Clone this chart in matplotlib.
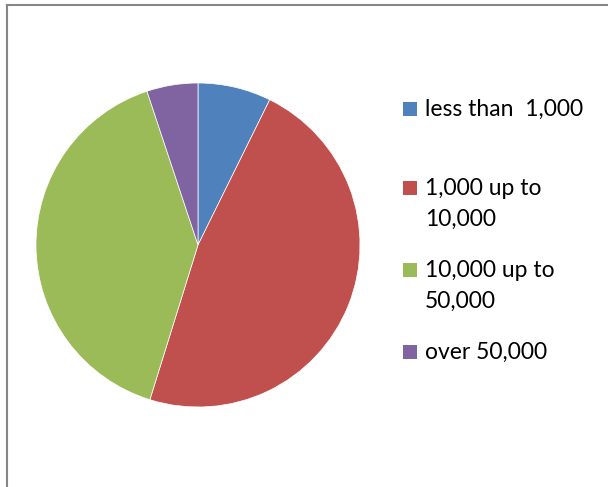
import matplotlib.pyplot as plt
from matplotlib.lines import Line2D
from matplotlib.patches import Rectangle

labels = ['less than  1,000', '1,000 up to\n10,000', '10,000 up to\n50,000', 'over 50,000']
shares = [7.3, 47.5, 40.1, 5.1]
colors = ['#4F81BD', '#C0504D', '#9BBB59', '#8064A2']

W, H = 608, 487
fig = plt.figure(figsize=(W / 100, H / 100), dpi=100)

# frame of the chart area (cropped at right/bottom)
fig.add_artist(Line2D([7 / W, 1], [1 - 4.5 / H, 1 - 4.5 / H], color='#868686', lw=1.5))
fig.add_artist(Line2D([7 / W, 7 / W], [0, 1 - 4.5 / H], color='#868686', lw=1.5))

ax = fig.add_axes([36 / W, 80 / H, 324 / W, 324 / H])
ax.pie(shares, colors=colors, startangle=90, counterclock=False,
       wedgeprops=dict(edgecolor='white', linewidth=0.5))
ax.set_xlim(-1, 1)
ax.set_ylim(-1, 1)
ax.set_aspect('equal')
ax.axis('off')

# legend
ys = [109, 188, 270, 352]
for lab, c, y in zip(labels, colors, ys):
    fig.add_artist(Rectangle((403 / W, 1 - (y + 7) / H), 14 / W, 14 / H,
                             facecolor=c, edgecolor='none'))
    fig.text(425 / W, 1 - (y - 10) / H, lab, family='Lato', fontsize=16.5,
             va='top', ha='left', linespacing=1.55, color='black')

fig.savefig('out.png', dpi=100)
